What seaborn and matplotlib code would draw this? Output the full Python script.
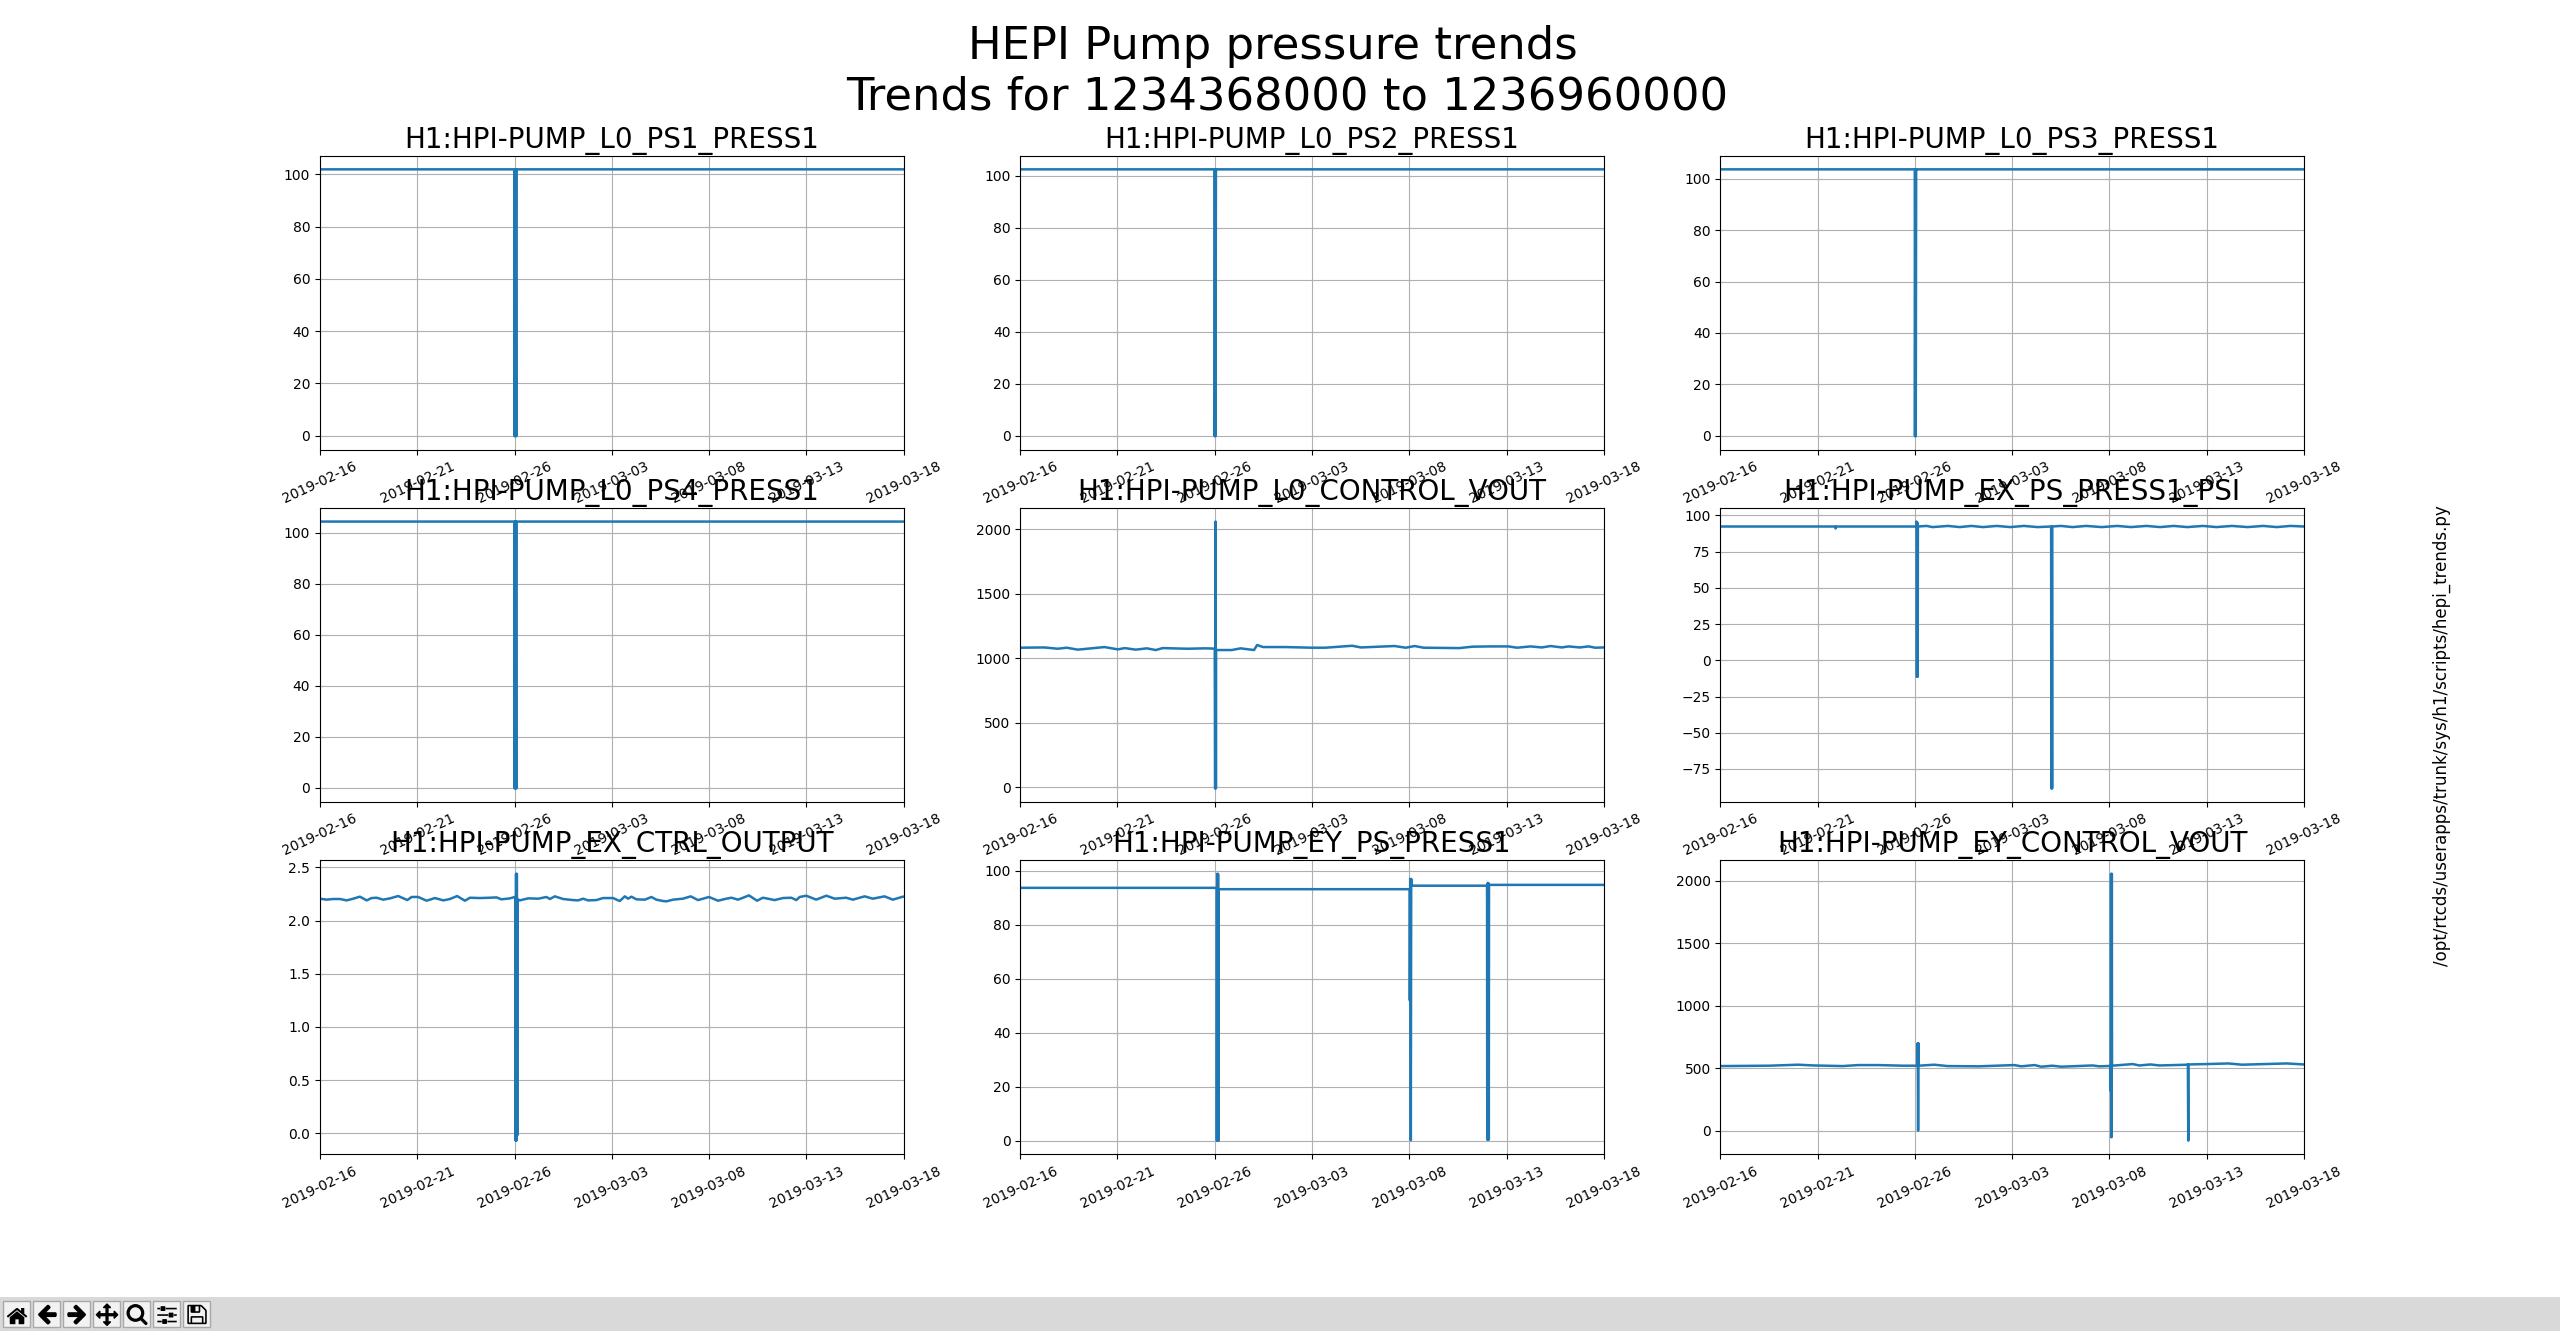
import os
import matplotlib
matplotlib.use('Agg')
import matplotlib.pyplot as plt
import matplotlib.dates as mdates
from matplotlib.patches import Rectangle
import pandas as pd
import seaborn as sns

start = pd.Timestamp('2019-02-16')
tick_days = [0, 5, 10, 15, 20, 25, 30]

channels = ['H1:HPI-PUMP_L0_PS1_PRESS1', 'H1:HPI-PUMP_L0_PS2_PRESS1', 'H1:HPI-PUMP_L0_PS3_PRESS1',
            'H1:HPI-PUMP_L0_PS4_PRESS1', 'H1:HPI-PUMP_L0_CONTROL_VOUT', 'H1:HPI-PUMP_EX_PS_PRESS1_PSI',
            'H1:HPI-PUMP_EX_CTRL_OUTPUT', 'H1:HPI-PUMP_EY_PS_PRESS1', 'H1:HPI-PUMP_EY_CONTROL_VOUT']

# days since 2019-02-16 and values
ps1_days = [0, 10.0, 10.01, 10.03, 10.05, 10.07, 10.09, 10.1, 30]
ps1_vals = [101.9, 101.9, -0.2, 101.9, -0.2, 101.9, -0.2, 101.9, 101.9]
ps2_days = [0, 9.99, 10.0, 10.02, 10.04, 10.06, 10.07, 30]
ps2_vals = [102.5, 102.5, -0.2, 102.5, -0.2, 102.5, 102.5, 102.5]
ps3_days = [0, 9.99, 10.0, 10.02, 10.04, 10.06, 10.07, 30]
ps3_vals = [103.7, 103.7, -0.2, 103.7, -0.2, 103.7, 103.7, 103.7]
ps4_days = [0, 10.0, 10.01, 10.03, 10.05, 10.07, 10.09, 10.1, 30]
ps4_vals = [104.4, 104.4, -0.2, 104.4, -0.2, 104.4, -0.2, 104.4, 104.4]

l0_vout_days = [0, 1.24, 1.93, 2.39, 2.96, 4.33, 5.02, 5.37, 5.94, 6.51, 6.97, 7.32, 8.58, 9.5, 10.0, 10.02, 10.04,
                10.06, 10.07, 10.87, 11.33, 12.02, 12.18, 12.48, 13.62, 15.0, 15.69, 17.06, 17.52, 19.24, 19.82,
                20.28, 20.73, 22.57, 23.26, 24.17, 25.09, 25.55, 26.24, 26.81, 27.27, 27.84, 28.19, 28.76,
                29.22, 29.56, 30]
l0_vout_vals = [1082, 1084, 1074, 1082, 1067, 1087, 1069, 1079, 1067, 1077, 1064, 1079, 1074, 1077, 1075, -8, 2059,
                -8, 1064, 1064, 1077, 1064, 1103, 1087, 1087, 1082, 1082, 1097, 1084, 1095, 1082,
                1095, 1082, 1079, 1090, 1092, 1092, 1082, 1092, 1084, 1095, 1084, 1092, 1084,
                1092, 1082, 1084]

ex_ps_days = [0, 5.9, 5.92, 5.94, 10.07, 10.08, 10.1, 10.12, 10.14, 10.15, 10.6, 10.9, 11.7, 12.3, 12.9, 13.5, 14.2, 14.9,
              15.6, 16.3, 17.0, 17.01, 17.03, 17.05, 17.06, 17.5, 18.1, 18.8, 19.6, 20.4, 21.1, 21.9, 22.6, 23.3, 24.0,
              24.8, 25.5, 26.3, 27.1, 27.9, 28.6, 29.3, 30]
ex_ps_vals = [92.3, 92.3, 91, 92.3, 92.3, 95.7, -11.4, 95.0, -11.4, 92.3, 92.7, 91.9, 92.7, 91.9, 92.7, 91.9, 92.7, 91.9,
              92.7, 91.9, 92.3, -88.4, 92.3, -88.4, 92.3, 92.7, 91.9, 92.7, 91.9, 92.7, 91.9, 92.7, 91.9, 92.7, 91.9,
              92.7, 91.9, 92.7, 91.9, 92.7, 91.9, 92.7, 92.3]

ex_ctrl_days = [0, .34, .68, 1.03, 1.37, 1.71, 2.05, 2.40, 2.65, 2.91, 3.25, 3.60, 4.02, 4.49, 4.71, 5.05, 5.48,
                5.91, 6.34, 6.68, 7.05, 7.45, 7.71, 8.22, 8.73, 9.08, 9.33, 9.76, 10.02, 10.05, 10.06, 10.08, 10.10,
                10.12, 10.14, 10.16, 10.27, 10.70, 11.22, 11.64, 11.82, 12.07, 12.5, 13.01, 13.27, 13.53, 13.78, 14.21, 14.55, 15.07,
                15.33, 15.41, 15.67, 15.84, 16.01, 16.27, 16.70, 17.04, 17.29, 17.64, 17.81, 18.15, 18.66, 19.06,
                19.43, 19.69, 20.0, 20.46, 20.89, 21.15, 21.49, 21.75, 22.05, 22.47, 22.77, 23.03, 23.37, 23.80,
                24.23, 24.49, 24.66, 25.0, 25.51, 26.03, 26.46, 27.05, 27.40, 28.0, 28.42, 29.02, 29.45, 29.97, 30]
ex_ctrl_vals = [2.206, 2.197, 2.203, 2.203, 2.190, 2.206, 2.225, 2.190, 2.212, 2.215, 2.197, 2.209, 2.231, 2.193,
                2.222, 2.222, 2.187, 2.212, 2.190, 2.203, 2.231, 2.187, 2.215, 2.212, 2.215, 2.218, 2.200, 2.209,
                2.222, 2.21, -0.07, 2.44, -0.07, 2.44, -0.02, 2.2, 2.190, 2.209, 2.206, 2.222, 2.203, 2.228, 2.203, 2.193, 2.190, 2.206,
                2.190, 2.193, 2.212, 2.212, 2.190, 2.184, 2.228, 2.206, 2.225, 2.200, 2.197, 2.222, 2.197, 2.184,
                2.181, 2.197, 2.206, 2.228, 2.193, 2.206, 2.222, 2.187, 2.206, 2.215, 2.197, 2.215, 2.237, 2.187,
                2.215, 2.206, 2.193, 2.212, 2.215, 2.193, 2.222, 2.234, 2.197, 2.234, 2.206, 2.215, 2.197, 2.228,
                2.206, 2.228, 2.197, 2.225, 2.225]

ey_ps_days = [0, 10.1, 10.11, 10.13, 10.15, 10.17, 10.19, 10.2, 20.02, 20.03, 20.05, 20.07, 20.08, 20.1, 20.11, 24.0, 24.01, 24.03, 24.05, 24.07,
              24.09, 24.1, 30]
ey_ps_vals = [93.7, 93.7, 0, 98.9, 0, 98.9, 0, 93.2, 93.2, 52, 97, 52, 0.2, 97, 94.5, 94.5, 0.4, 95.5, 0.4, 95.5, 0.4, 94.8, 94.8]

ey_vout_days = [0, 2.5, 3.99, 4.79, 6.28, 7.09, 8.12, 9.38, 10.13, 10.14, 10.16, 10.18, 10.19, 10.99, 11.67, 13.28, 15.11, 15.46,
                16.15, 16.49, 17.06, 17.52, 19.13, 19.47, 20.05, 20.06, 20.08, 20.1, 20.12, 20.13, 21.19, 21.54, 22.11, 22.57,
                24.02, 24.03, 24.05, 24.06, 24.98, 26.12, 26.81, 29.11, 30]
ey_vout_vals = [517, 520, 528, 522, 517, 525, 525, 520, 520, 700, 0, 700, 520, 528, 517, 515, 525, 515,
                525, 512, 520, 512, 522, 515, 518, 318, 2056, -53, 2056, 520, 533, 522, 530, 522,
                528, 530, -80, 530, 533, 538, 528, 538, 530]

series_days = [ps1_days, ps2_days, ps3_days, ps4_days, l0_vout_days, ex_ps_days, ex_ctrl_days, ey_ps_days, ey_vout_days]
series_vals = [ps1_vals, ps2_vals, ps3_vals, ps4_vals, l0_vout_vals, ex_ps_vals, ex_ctrl_vals, ey_ps_vals, ey_vout_vals]

fig, axes = plt.subplots(3, 3, figsize=(25.6, 13.31), dpi=100)
fig.subplots_adjust(left=0.125, right=0.9, top=1 - 156 / 1331, bottom=1 - 1154 / 1331, wspace=0.2, hspace=0.2)

ticks = [start + pd.Timedelta(days=d) for d in tick_days]

for ax, name, days, vals in zip(axes.flat, channels, series_days, series_vals):
    df = pd.DataFrame({'time': start + pd.to_timedelta(days, unit='D'), 'value': vals})
    sns.lineplot(data=df, x='time', y='value', estimator=None, sort=False, linewidth=1.8, ax=ax)
    ax.set_title(name, fontsize=20)
    ax.set_xlabel('')
    ax.set_ylabel('')
    ax.set_xlim(ticks[0], ticks[-1])
    ax.set_xticks(ticks)
    ax.xaxis.set_major_formatter(mdates.DateFormatter('%Y-%m-%d'))
    ax.tick_params(axis='x', labelrotation=25)
    ax.grid(True)

fig.suptitle('HEPI Pump pressure trends  \nTrends for 1234368000 to 1236960000', fontsize=32.3, x=0.5027, y=0.981)
fig.text(2442 / 2560, 1 - 736 / 1331, '/opt/rtcds/userapps/trunk/sys/h1/scripts/hepi_trends.py',
         rotation=90, fontsize=12, ha='center', va='center')

# toolbar strip along the bottom of the window
fig.add_artist(Rectangle((0, 0), 1, 34 / 1331, transform=fig.transFigure, facecolor='#d9d9d9', edgecolor='none', zorder=1))
icons = ['home', 'back', 'forward', 'move', 'zoom_to_rect', 'subplots', 'filesave']
for i, icon in enumerate(icons):
    x0 = 3 + 30 * i
    fig.add_artist(Rectangle((x0 / 2560, 4 / 1331), 27 / 2560, 26 / 1331, transform=fig.transFigure,
                             facecolor='#f2f2f2', edgecolor='#a8a8a8', linewidth=1, zorder=2))
    img = plt.imread(os.path.join(matplotlib.get_data_path(), 'images', icon + '.png'))
    fig.figimage(img, xo=x0 + 2, yo=5, origin='upper', zorder=3)

fig.savefig('out.png', dpi=100)
